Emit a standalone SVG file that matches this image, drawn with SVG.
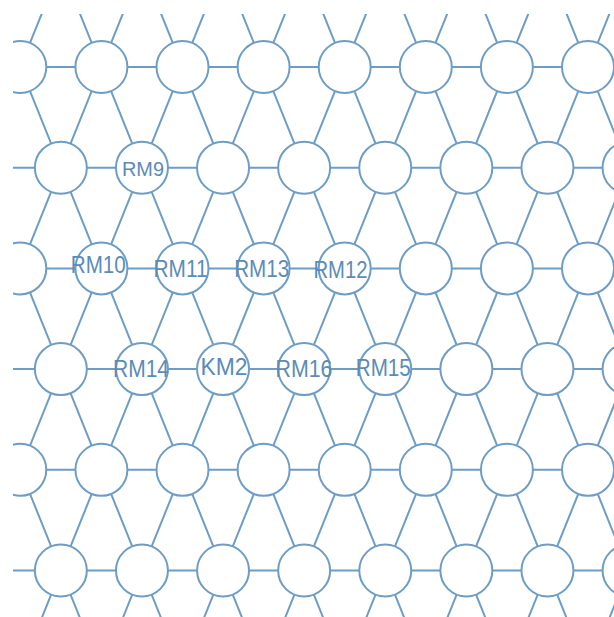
<svg xmlns="http://www.w3.org/2000/svg" width="614" height="617" viewBox="0 0 614 617">
<style>
.edge{fill:none;stroke:#6d9dc6;stroke-width:2}
.node circle{fill:#ffffff;stroke:#6d9dc6;stroke-width:2}
.lbl{font-family:"Liberation Sans",Arial,sans-serif;font-size:23px;fill:#5b8bb8;text-anchor:middle}
</style>
<defs>
<clipPath id="frame"><rect x="13" y="14" width="601" height="603"/></clipPath>
</defs>
<rect width="614" height="617" fill="#ffffff"/>
<g clip-path="url(#frame)">
<g id="connectors" class="edge">
<path d="M0 67H614M0 167.7H614M0 268.4H614M0 369.1H614M0 469.8H614M0 570.5H614"/>
<path d="M-182.45 -33.7L101.4 671.2M-101.35 -33.7L182.5 671.2M-20.25 -33.7L263.6 671.2M60.85 -33.7L344.7 671.2M141.95 -33.7L425.8 671.2M223.05 -33.7L506.9 671.2M304.15 -33.7L588 671.2M385.25 -33.7L669.1 671.2M466.35 -33.7L750.2 671.2M547.45 -33.7L831.3 671.2"/>
<path d="M60.85 -33.7L-223 671.2M141.95 -33.7L-141.9 671.2M223.05 -33.7L-60.8 671.2M304.15 -33.7L20.3 671.2M385.25 -33.7L101.4 671.2M466.35 -33.7L182.5 671.2M547.45 -33.7L263.6 671.2M628.55 -33.7L344.7 671.2M709.65 -33.7L425.8 671.2M790.75 -33.7L506.9 671.2M871.85 -33.7L588 671.2"/>
</g>
<g id="nodes">
<g id="n-r0-c0" class="node"><circle cx="20.3" cy="67" r="26"/></g>
<g id="n-r0-c1" class="node"><circle cx="101.4" cy="67" r="26"/></g>
<g id="n-r0-c2" class="node"><circle cx="182.5" cy="67" r="26"/></g>
<g id="n-r0-c3" class="node"><circle cx="263.6" cy="67" r="26"/></g>
<g id="n-r0-c4" class="node"><circle cx="344.7" cy="67" r="26"/></g>
<g id="n-r0-c5" class="node"><circle cx="425.8" cy="67" r="26"/></g>
<g id="n-r0-c6" class="node"><circle cx="506.9" cy="67" r="26"/></g>
<g id="n-r0-c7" class="node"><circle cx="588" cy="67" r="26"/></g>

<g id="n-r1-c0" class="node"><circle cx="60.85" cy="167.7" r="26"/></g>
<g id="RM9" class="node"><circle cx="141.95" cy="167.7" r="26"/><text class="lbl" x="143" y="176" style="font-size:21px" textLength="42" lengthAdjust="spacingAndGlyphs">RM9</text></g>
<g id="n-r1-c2" class="node"><circle cx="223.05" cy="167.7" r="26"/></g>
<g id="n-r1-c3" class="node"><circle cx="304.15" cy="167.7" r="26"/></g>
<g id="n-r1-c4" class="node"><circle cx="385.25" cy="167.7" r="26"/></g>
<g id="n-r1-c5" class="node"><circle cx="466.35" cy="167.7" r="26"/></g>
<g id="n-r1-c6" class="node"><circle cx="547.45" cy="167.7" r="26"/></g>
<g id="n-r1-c7" class="node"><circle cx="628.55" cy="167.7" r="26"/></g>

<g id="n-r2-c0" class="node"><circle cx="20.3" cy="268.4" r="26"/></g>
<g id="RM10" class="node"><circle cx="101.4" cy="268.4" r="26"/><text class="lbl" x="98.3" y="273.3" textLength="55" lengthAdjust="spacingAndGlyphs">RM10</text></g>
<g id="RM11" class="node"><circle cx="182.5" cy="268.4" r="26"/><text class="lbl" x="180.5" y="277.3" textLength="54" lengthAdjust="spacingAndGlyphs">RM11</text></g>
<g id="RM13" class="node"><circle cx="263.6" cy="268.4" r="26"/><text class="lbl" x="261.7" y="276.7" textLength="55" lengthAdjust="spacingAndGlyphs">RM13</text></g>
<g id="RM12" class="node"><circle cx="344.7" cy="268.4" r="26"/><text class="lbl" x="340.5" y="278.3" textLength="54" lengthAdjust="spacingAndGlyphs">RM12</text></g>
<g id="n-r2-c5" class="node"><circle cx="425.8" cy="268.4" r="26"/></g>
<g id="n-r2-c6" class="node"><circle cx="506.9" cy="268.4" r="26"/></g>
<g id="n-r2-c7" class="node"><circle cx="588" cy="268.4" r="26"/></g>

<g id="n-r3-c0" class="node"><circle cx="60.85" cy="369.1" r="26"/></g>
<g id="RM14" class="node"><circle cx="141.95" cy="369.1" r="26"/><text class="lbl" x="141" y="376.7" textLength="56" lengthAdjust="spacingAndGlyphs">RM14</text></g>
<g id="KM2" class="node"><circle cx="223.05" cy="369.1" r="26"/><text class="lbl" x="224" y="375" textLength="47" lengthAdjust="spacingAndGlyphs">KM2</text></g>
<g id="RM16" class="node"><circle cx="304.15" cy="369.1" r="26"/><text class="lbl" x="304" y="376.7" textLength="57" lengthAdjust="spacingAndGlyphs">RM16</text></g>
<g id="RM15" class="node"><circle cx="385.25" cy="369.1" r="26"/><text class="lbl" x="383.3" y="376" textLength="55" lengthAdjust="spacingAndGlyphs">RM15</text></g>
<g id="n-r3-c5" class="node"><circle cx="466.35" cy="369.1" r="26"/></g>
<g id="n-r3-c6" class="node"><circle cx="547.45" cy="369.1" r="26"/></g>
<g id="n-r3-c7" class="node"><circle cx="628.55" cy="369.1" r="26"/></g>

<g id="n-r4-c0" class="node"><circle cx="20.3" cy="469.8" r="26"/></g>
<g id="n-r4-c1" class="node"><circle cx="101.4" cy="469.8" r="26"/></g>
<g id="n-r4-c2" class="node"><circle cx="182.5" cy="469.8" r="26"/></g>
<g id="n-r4-c3" class="node"><circle cx="263.6" cy="469.8" r="26"/></g>
<g id="n-r4-c4" class="node"><circle cx="344.7" cy="469.8" r="26"/></g>
<g id="n-r4-c5" class="node"><circle cx="425.8" cy="469.8" r="26"/></g>
<g id="n-r4-c6" class="node"><circle cx="506.9" cy="469.8" r="26"/></g>
<g id="n-r4-c7" class="node"><circle cx="588" cy="469.8" r="26"/></g>

<g id="n-r5-c0" class="node"><circle cx="60.85" cy="570.5" r="26"/></g>
<g id="n-r5-c1" class="node"><circle cx="141.95" cy="570.5" r="26"/></g>
<g id="n-r5-c2" class="node"><circle cx="223.05" cy="570.5" r="26"/></g>
<g id="n-r5-c3" class="node"><circle cx="304.15" cy="570.5" r="26"/></g>
<g id="n-r5-c4" class="node"><circle cx="385.25" cy="570.5" r="26"/></g>
<g id="n-r5-c5" class="node"><circle cx="466.35" cy="570.5" r="26"/></g>
<g id="n-r5-c6" class="node"><circle cx="547.45" cy="570.5" r="26"/></g>
<g id="n-r5-c7" class="node"><circle cx="628.55" cy="570.5" r="26"/></g>
</g>
</g>
</svg>
